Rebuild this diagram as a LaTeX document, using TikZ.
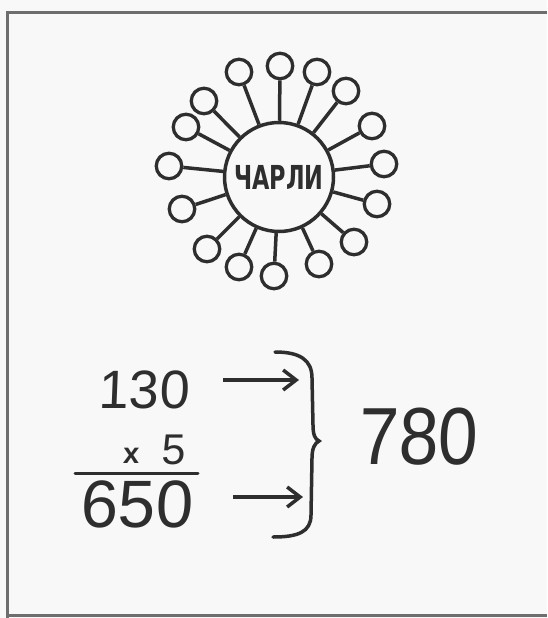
\documentclass[tikz,border=0pt]{standalone}
\usepackage{fontspec}
\usetikzlibrary{arrows.meta}
\newfontfamily\handfont[FakeSlant=0.04]{Liberation Sans}
\newfontfamily\letterfont{DejaVu Sans}
\definecolor{ink}{HTML}{2E2E2E}
\definecolor{paper}{HTML}{F8F8F8}
\definecolor{framec}{HTML}{6E6E6E}
\tikzset{
  hub/.style={circle, draw=ink, line width=3.5pt, minimum size=109pt, inner sep=0pt},
  petal/.style={circle, draw=ink, line width=3.3pt, minimum size=25.5pt, inner sep=0pt},
  stem/.style={draw=ink, line width=3.5pt},
  num/.style={inner sep=0pt, text=ink},
  arr/.style={draw=ink, line width=3.5pt, -{Straight Barb[length=13pt,width=20pt]}},
  inkline/.style={draw=ink, line width=3.5pt, line cap=round}
}
\begin{document}
\begin{tikzpicture}[x=1pt,y=-1pt]
\fill[paper] (0,0) rectangle (547,618);
\useasboundingbox (0,0) rectangle (547,618);
% frame
\draw[framec, line width=3pt] (547,12.5) -- (7.5,12.5) -- (7.5,618);
\draw[framec, line width=2.5pt] (7.5,615.5) -- (547,615.5);
% flower
\node[hub] (c) at (279,177) {\scalebox{0.68}[1]{\letterfont\bfseries\fontsize{33}{33}\selectfont\color{ink}ЧАРЛИ}};
\foreach \i/\px/\py in {1/280/66, 2/239/72, 3/317/72, 4/346/91, 5/204/101, 6/372/126,
  7/186/127, 8/384/164, 9/169/166, 10/377/204, 11/182/209, 12/354/242,
  13/207/249, 14/239/267, 15/274/276, 16/319/264}{
  \node[petal] (p\i) at (\px,\py) {};
  \draw[stem] (c) -- (p\i);
}
% calculation
\node[num] (n130) at (144,390) {\handfont\fontsize{54}{54}\selectfont 130};
\node[num] (nx) at (131,456) {\handfont\bfseries\fontsize{29}{29}\selectfont x};
\node[num] (n5) at (173,450) {\handfont\fontsize{43}{43}\selectfont 5};
\draw[inkline, line width=3pt] (75,473) -- (198,473);
\node[num] (n650) at (136.5,504) {\handfont\fontsize{67}{67}\selectfont 650};
\node[num] (n780) at (418,437) {\scalebox{0.88}[1]{\handfont\fontsize{81}{81}\selectfont 780}};
\coordinate (a1s) at (223,380);
\coordinate (a1e) at (299,380);
\coordinate (a2s) at (233,497);
\coordinate (a2e) at (303,497);
\draw[arr] (a1s) -- (a1e);
\draw[arr] (a2s) -- (a2e);
% brace
\draw[inkline] (275,352) .. controls (300,352) and (312,360) .. (312,378)
  -- (313,425) .. controls (313,435) and (315,439) .. (319,441)
  .. controls (315,443) and (312,448) .. (312,458)
  -- (311,515) .. controls (311,532) and (298,537) .. (273,537);
\end{tikzpicture}
\end{document}
